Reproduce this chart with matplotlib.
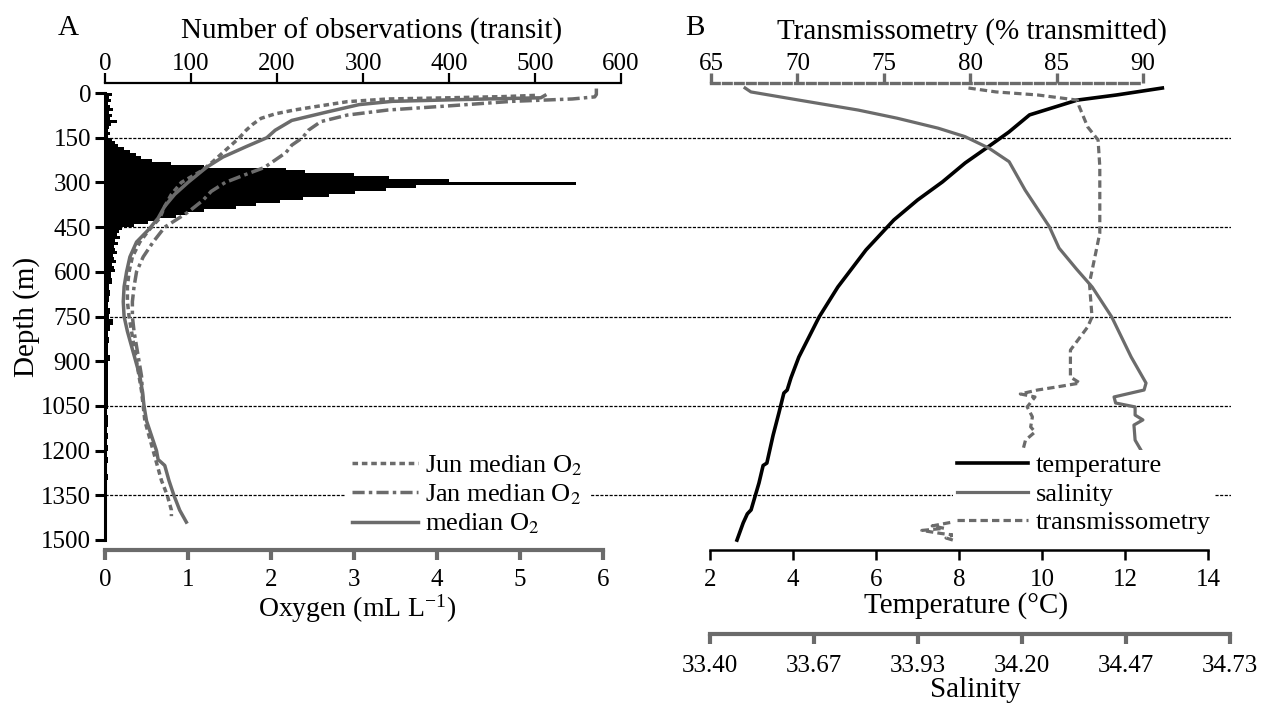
import numpy as np
import matplotlib
matplotlib.use('Agg')
import matplotlib.pyplot as plt

plt.rcParams['font.family'] = 'Liberation Serif'
plt.rcParams['mathtext.fontset'] = 'stix'
plt.rcParams['font.size'] = 18

GRAY = '#6b6b6b'
LABEL_FS = 21
LEGEND_FS = 19

# --- panel A: observations per depth bin (transit) ---
bin_depth = np.r_[np.arange(0, 600, 10), np.arange(600, 1500, 20)]
obs_count = [8, 5, 7, 4, 6, 9, 5, 8, 6, 14,
             7, 5, 4, 6, 4, 8, 12, 15, 22, 29,
             36, 42, 55, 77, 115, 210, 232, 290, 330, 400,
             548, 362, 327, 291, 260, 230, 204, 175, 152, 115,
             95, 82, 60, 50, 34, 20, 16, 14, 17, 12,
             15, 10, 12, 14, 9, 11, 13, 8, 10, 12,
             7, 8, 5, 6, 5, 4, 6, 5, 9, 6,
             4, 5, 3, 4, 6, 3, 4, 3, 4, 3,
             3, 4, 3, 2, 3, 4, 2, 3, 2, 3,
             2, 3, 2, 2, 3, 2, 1, 2, 1, 1,
             1, 1, 1, 1, 1]
bin_height = np.diff(np.r_[bin_depth, 1500])

# --- panel A: oxygen profiles ---
jun_depth = [8, 12, 16, 20, 29, 45, 57, 70, 85, 105, 125, 150, 175, 200, 230, 260, 300, 340, 380, 420,
             460, 500, 550, 600, 650, 700, 750, 800, 850, 900, 950, 1000, 1050, 1100, 1150, 1200, 1250,
             1300, 1350, 1400, 1420]
jun_o2 = [5.18, 4.8, 4.15, 3.41, 2.92, 2.55, 2.28, 2.05, 1.88, 1.78, 1.7, 1.62, 1.52, 1.42, 1.3, 1.17,
          0.92, 0.8, 0.72, 0.66, 0.53, 0.42, 0.33, 0.29, 0.27, 0.27, 0.29, 0.32, 0.35, 0.38, 0.41, 0.44,
          0.46, 0.48, 0.53, 0.58, 0.63, 0.68, 0.75, 0.80, 0.80]

jan_depth = [-15, 5, 13, 20, 28, 43, 57, 74, 96, 125, 150, 175, 200, 225, 250, 275, 300, 330, 360, 400,
             450, 500, 550, 600, 650, 700, 750, 800, 850, 900, 950, 1000, 1050]
jan_o2 = [5.92, 5.92, 5.9, 5.63, 4.9, 4.15, 3.41, 2.92, 2.6, 2.45, 2.38, 2.25, 2.18, 2.05, 1.92, 1.68,
          1.45, 1.28, 1.18, 1.0, 0.72, 0.58, 0.46, 0.38, 0.35, 0.33, 0.33, 0.35, 0.38, 0.41, 0.44, 0.45, 0.46]

med_depth = [8, 16, 20, 23, 28, 39, 64, 92, 125, 150, 180, 215, 250, 300, 340, 380, 420, 460, 500, 550,
             600, 650, 700, 750, 800, 850, 900, 950, 1000, 1050, 1100, 1150, 1200, 1230, 1250, 1300,
             1350, 1400, 1440]
med_o2 = [5.3, 5.25, 4.6, 4.15, 3.46, 3.06, 2.67, 2.25, 2.05, 1.95, 1.7, 1.42, 1.22, 1.0, 0.84, 0.72,
          0.64, 0.52, 0.38, 0.3, 0.26, 0.23, 0.22, 0.23, 0.27, 0.32, 0.37, 0.42, 0.45, 0.47, 0.5, 0.56,
          0.62, 0.64, 0.72, 0.77, 0.83, 0.9, 0.98]

# --- panel B: temperature, salinity, transmissometry ---
temp_depth = [0, 23, 40, 89, 146, 195, 248, 311, 371, 437, 536, 659, 758, 891, 960, 1000, 1010, 1076,
              1150, 1242, 1250, 1308, 1397, 1410, 1440, 1497]
temp_c = [12.9, 11.8, 10.85, 9.7, 9.2, 8.7, 8.15, 7.6, 7.0, 6.43, 5.76, 5.08, 4.63, 4.14, 3.95, 3.86,
          3.78, 3.66, 3.52, 3.37, 3.28, 3.18, 2.99, 2.9, 2.80, 2.65]

sal_depth = [0, 13, 40, 73, 100, 133, 161, 199, 244, 338, 459, 530, 600, 659, 758, 891, 977, 1000, 1023,
             1043, 1056, 1083, 1099, 1116, 1166, 1199]
salinity = [33.49, 33.505, 33.628, 33.78, 33.88, 33.985, 34.054, 34.115, 34.167, 34.208, 34.27, 34.295,
            34.34, 34.38, 34.43, 34.48, 34.518, 34.513, 34.436, 34.44, 34.49, 34.49, 34.51, 34.487,
            34.49, 34.505]

tr_depth = [0, 13, 23, 40, 60, 129, 172, 260, 480, 536, 646, 758, 791, 868, 957, 977, 990, 1000, 1013,
            1023, 1056, 1089, 1122, 1139, 1166, 1199, 1260, 1330, 1400, 1437, 1450, 1458, 1465, 1475,
            1480, 1490, 1497]
transmission = [79.9, 81.5, 83.9, 86.2, 86.3, 86.8, 87.4, 87.5, 87.5, 87.3, 86.9, 87.05, 86.8, 85.8,
                85.8, 86.35, 85.0, 83.9, 82.9, 83.75, 83.3, 83.6, 83.5, 83.75, 83.2, 83.05, 82.5, 81.5,
                80.2, 79.0, 77.8, 78.5, 77.2, 78.3, 79.0, 78.6, 79.0]

depth_ticks = list(range(0, 1501, 150))
grid_depths = [150, 450, 750, 1050, 1350]
sal_ticks = [33.40, 33.6667, 33.9333, 34.20, 34.4667, 34.7333]
sal_labels = ['33.40', '33.67', '33.93', '34.20', '34.47', '34.73']

W, H = 1262, 704
fig = plt.figure(figsize=(W / 100, H / 100), dpi=100)


def rect(x0, x1, y0, y1):
    # pixel box (from top-left) -> figure fraction
    return [x0 / W, 1 - y1 / H, (x1 - x0) / W, (y1 - y0) / H]


ylimA = (1533.6, -33.6)
ylimB = (1529.8, -16.6)

# dashed depth guides spanning both panels
bg = fig.add_axes(rect(105, 1231, 83, 550))
bg.set_xlim(0, 1)
bg.set_ylim(*ylimA)
bg.axis('off')
bg.hlines(grid_depths, 0, 1, colors='black', lw=0.9, linestyles=(0, (2.5, 1.2)))

# panel A histogram + oxygen twin
axA = fig.add_axes(rect(105, 621, 83, 550))
axO = axA.twiny()
axA.patch.set_visible(False)
axA.barh(bin_depth, obs_count, height=bin_height, align='edge', color='black', lw=0)
axA.set_xlim(0, 600)
axA.set_ylim(*ylimA)
axA.xaxis.set_ticks_position('top')
axA.xaxis.set_label_position('top')
axA.set_xticks(range(0, 601, 100))
axA.set_xlabel('Number of observations (transit)', fontsize=LABEL_FS, labelpad=10)
axA.xaxis.label.set_x((372 - 105) / 516)
axA.set_yticks(depth_ticks)
axA.set_ylabel('Depth (m)', fontsize=LABEL_FS, labelpad=1)
for s in ['bottom', 'right']:
    axA.spines[s].set_visible(False)
axA.spines['top'].set_linewidth(1.6)
axA.spines['left'].set_linewidth(2.2)
axA.spines['left'].set_bounds(0, 1500)
axA.tick_params(axis='x', direction='out', length=7, width=1.6, pad=-1)
axA.tick_params(axis='y', direction='out', length=7, width=2.2, pad=3)

axO.set_xlim(0, 6 * 516 / 498)
axO.xaxis.set_ticks_position('bottom')
axO.xaxis.set_label_position('bottom')
axO.set_xticks(range(0, 7))
for s in ['top', 'right', 'left']:
    axO.spines[s].set_visible(False)
axO.spines['bottom'].set_visible(True)
axO.spines['bottom'].set_color(GRAY)
axO.spines['bottom'].set_linewidth(3)
axO.spines['bottom'].set_bounds(0, 6)
axO.tick_params(axis='x', direction='out', length=7, width=3, color=GRAY, pad=6.5)
axO.set_xlabel(r'Oxygen (mL L$^{\mathregular{-1}}$)', fontsize=LABEL_FS - 1, labelpad=1)
axO.xaxis.label.set_x((357 - 105) / 516)
axO.plot(jun_o2, jun_depth, color=GRAY, lw=2.5, ls=(0, (1.6, 1.1)), label='Jun median O$_2$')
axO.plot(jan_o2, jan_depth, color=GRAY, lw=2.5, ls=(0, (3.5, 1.2, 1.0, 1.2)), label='Jan median O$_2$')
axO.plot(med_o2, med_depth, color=GRAY, lw=2.5, label='median O$_2$')
axO.legend(loc='upper left', bbox_to_anchor=(345 / W, 1 - 447 / H), bbox_transform=fig.transFigure,
           frameon=True, fancybox=False, edgecolor='none', facecolor='white', framealpha=1,
           fontsize=LEGEND_FS, handlelength=2.5, handletextpad=0.3, labelspacing=0.17,
           borderpad=0.25, borderaxespad=0)

# panel B temperature with transmissometry (top) and salinity (bottom) twins
axB = fig.add_axes(rect(710, 1230, 83, 550))
axT = axB.twiny()
axS = axB.twiny()
axB.patch.set_visible(False)
axB.set_xlim(2, 2 + 520 / 41.5)
axB.set_ylim(*ylimB)
axB.xaxis.set_ticks_position('bottom')
axB.set_xticks(range(2, 15, 2))
axB.set_yticks([])
for s in ['top', 'right', 'left']:
    axB.spines[s].set_visible(False)
axB.spines['bottom'].set_linewidth(1.8)
axB.spines['bottom'].set_bounds(2, 14)
axB.tick_params(axis='x', direction='out', length=7, width=1.8, pad=6.5)
axB.set_xlabel('Temperature (°C)', fontsize=LABEL_FS, labelpad=1)
axB.xaxis.label.set_x((966 - 710) / 520)
axB.plot(temp_c, temp_depth, color='black', lw=2.6, label='temperature')

axT.set_xlim(65 - 1 / 17.28, 65 - 1 / 17.28 + 520 / 17.28)
axT.set_xticks(range(65, 91, 5))
for s in ['bottom', 'right', 'left']:
    axT.spines[s].set_visible(False)
axT.spines['top'].set_color(GRAY)
axT.spines['top'].set_linewidth(2.4)
axT.spines['top'].set_linestyle((0, (2.3, 1.3)))
axT.spines['top'].set_bounds(65, 90)
axT.tick_params(axis='x', direction='out', length=7, width=2.4, color=GRAY, pad=-1)
axT.set_xlabel('Transmissometry (% transmitted)', fontsize=LABEL_FS, labelpad=10)
axT.xaxis.label.set_x((972 - 710) / 520)
axT.plot(transmission, tr_depth, color=GRAY, lw=2.3, ls=(0, (2.3, 1.3)), label='transmissometry')

axS.set_xlim(33.40, 34.7333)
axS.xaxis.set_ticks_position('bottom')
axS.xaxis.set_label_position('bottom')
axS.set_xticks(sal_ticks)
axS.set_xticklabels(sal_labels)
for s in ['top', 'right', 'left']:
    axS.spines[s].set_visible(False)
axS.spines['bottom'].set_visible(True)
axS.spines['bottom'].set_position(('outward', 60.5))
axS.spines['bottom'].set_color(GRAY)
axS.spines['bottom'].set_linewidth(3)
axS.tick_params(axis='x', direction='out', length=7, width=3, color=GRAY, pad=8)
axS.set_xlabel('Salinity', fontsize=LABEL_FS, labelpad=0)
axS.xaxis.label.set_x((975 - 710) / 520)
axS.plot(salinity, sal_depth, color=GRAY, lw=2.3, label='salinity')

handles = [axB.get_lines()[0], axS.get_lines()[0], axT.get_lines()[0]]
axS.legend(handles=handles, loc='upper left', bbox_to_anchor=(953 / W, 1 - 450 / H),
           bbox_transform=fig.transFigure, frameon=True, fancybox=False, edgecolor='none',
           facecolor='white', framealpha=1, fontsize=LEGEND_FS, handlelength=2.7,
           handletextpad=0.3, labelspacing=0.19, borderpad=0.15, borderaxespad=0)

fig.text(68 / W, 1 - 28 / H, 'A', ha='center', va='center', fontsize=LABEL_FS)
fig.text(695 / W, 1 - 28 / H, 'B', ha='center', va='center', fontsize=LABEL_FS)

fig.savefig('out.png', dpi=100)
